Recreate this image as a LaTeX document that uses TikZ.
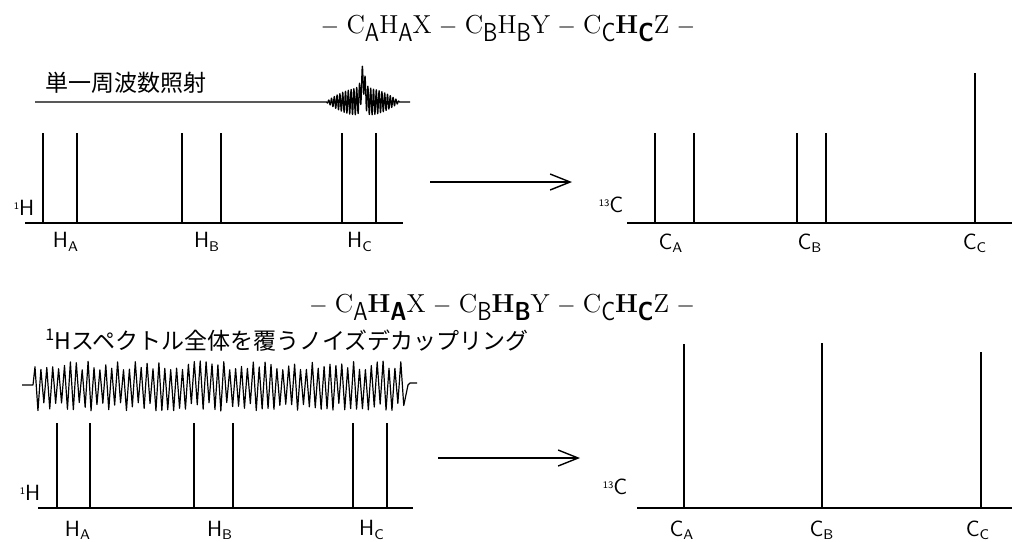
\documentclass[tikz,border=0pt]{standalone}
\usepackage{fontspec}
\usepackage{graphicx}
\usetikzlibrary{arrows.meta}
\newfontfamily\jafont{Noto Sans CJK JP}
\newcommand{\lsub}[1]{\raisebox{-0.8ex}{\scalebox{0.85}[1.0]{\sffamily #1}}}
\newcommand{\lbl}[2]{#1\textsubscript{\scriptsize #2}}

\begin{document}
\begin{tikzpicture}[
    x=0.5pt, y=-0.5pt,
    peak/.style={line width=1.25pt},
    base/.style={line width=1.4pt},
    wave/.style={line width=0.6pt, line join=round},
    reaction/.style={line width=0.7pt, -{Straight Barb[length=10pt, width=8pt, line width=0.7pt]}},
    formula/.style={anchor=base, inner sep=0pt, font=\fontsize{13}{15}\selectfont},
    title/.style={anchor=west, inner sep=0pt, font=\jafont\fontsize{11.5}{13}\selectfont},
    axis/.style={inner sep=0pt, font=\sffamily\fontsize{11}{12}\selectfont}
]
\useasboundingbox (0,0) rectangle (1012,541);

% selective irradiation
\node[formula] (molA) at (508,33) {$-$\;C\lsub{A}H\lsub{A}X\;$-$\;C\lsub{B}H\lsub{B}Y\;$-$\;C\lsub{C}\textbf{H}\lsub{\bfseries C}Z\;$-$};
\node[title] (irrA) at (45,83) {単一周波数照射};
\draw[wave] (35,102) -- (326,102)
    -- plot[domain=-37:37, samples=360] ({363+\x}, {102 - 24/(1+(\x/3.2)^2)/(1+(\x/3.2)^2) + 14*(1-(\x/37)^2)*sin(360*\x/2.8)})
    -- (410,102);
\draw[base] (25,223) -- (403,223);
\foreach \px in {43,77,182,221,342,376}
    \draw[peak] (\px,223) -- (\px,133);
\node[axis] (hA) at (24,208) {\raisebox{0.6ex}{\tiny 1}H};
\node[axis] (hAa) at (66,242) {\lbl{H}{A}};
\node[axis] (hAb) at (207,242) {\lbl{H}{B}};
\node[axis] (hAc) at (360,242) {\lbl{H}{C}};

\coordinate (arrA0) at (430,182);
\coordinate (arrA1) at (572,182);
\draw[reaction] (arrA0) -- (arrA1);

\draw[base] (627,223) -- (1012,223);
\foreach \px in {655,694,797,826}
    \draw[peak] (\px,223) -- (\px,133);
\draw[peak] (975,223) -- (975,73);
\node[axis] (cA) at (611,205) {\raisebox{0.6ex}{\tiny 13}C};
\node[axis] (cAa) at (671,243) {\lbl{C}{A}};
\node[axis] (cAb) at (810,243) {\lbl{C}{B}};
\node[axis] (cAc) at (975,243) {\lbl{C}{C}};

% noise decoupling
\node[formula] (molB) at (502,312) {$-$\;C\lsub{A}\textbf{H}\lsub{\bfseries A}X\;$-$\;C\lsub{B}\textbf{H}\lsub{\bfseries B}Y\;$-$\;C\lsub{C}\textbf{H}\lsub{\bfseries C}Z\;$-$};
\node[title] (irrB) at (45,340) {\raisebox{0.7ex}{\fontsize{8}{9}\selectfont 1}Hスペクトル全体を覆うノイズデカップリング};
\pgfmathsetseed{17}
\draw[wave] (22,385) -- (33,385)
    \foreach \k in {0,...,125} { -- ({35+2.95*\k}, {386+(2*mod(\k,2)-1)*(16+9*rnd)}) }
    -- (408,385) -- (410,383) -- (417,383);
\draw[base] (38,508) -- (413,508);
\foreach \px in {57,90,194,233,353,387}
    \draw[peak] (\px,508) -- (\px,423);
\node[axis] (hB) at (30,493) {\raisebox{0.6ex}{\tiny 1}H};
\node[axis] (hBa) at (78,530) {\lbl{H}{A}};
\node[axis] (hBb) at (220,530) {\lbl{H}{B}};
\node[axis] (hBc) at (372,530) {\lbl{H}{C}};

\coordinate (arrB0) at (438,458);
\coordinate (arrB1) at (580,458);
\draw[reaction] (arrB0) -- (arrB1);

\draw[base] (637,508) -- (1012,508);
\draw[peak] (684,508) -- (684,344);
\draw[peak] (822,508) -- (822,343);
\draw[peak] (981,508) -- (981,352);
\node[axis] (cB) at (615,487) {\raisebox{0.6ex}{\tiny 13}C};
\node[axis] (cBa) at (682,530) {\lbl{C}{A}};
\node[axis] (cBb) at (822,530) {\lbl{C}{B}};
\node[axis] (cBc) at (978,530) {\lbl{C}{C}};
\end{tikzpicture}
\end{document}
